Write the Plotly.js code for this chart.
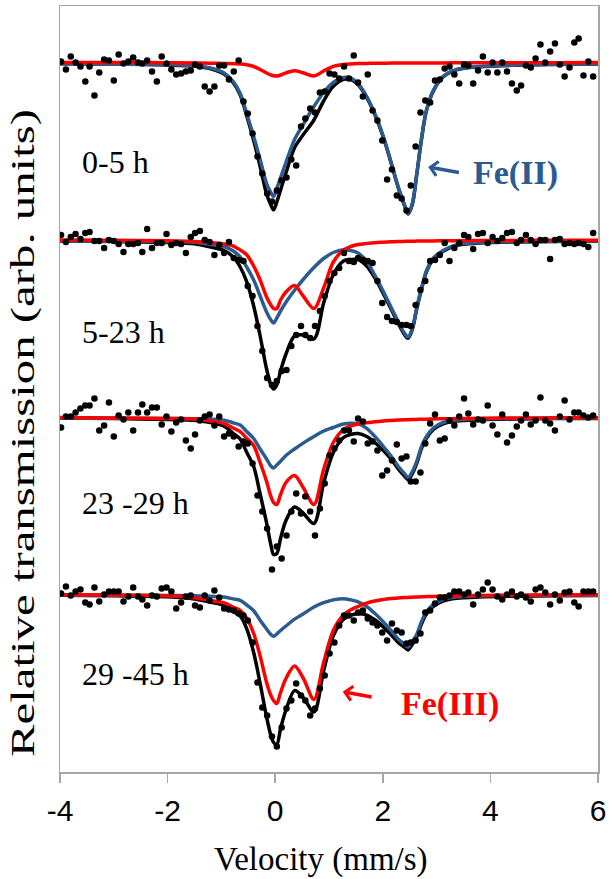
<!DOCTYPE html>
<html>
<head>
<meta charset="utf-8">
<script src="https://cdn.plot.ly/plotly-3.0.1.min.js"></script>
<style>
  html, body { margin: 0; padding: 0; background: #ffffff; }
  #chart { width: 611px; height: 879px; }
</style>
</head>
<body>
<div id="chart"></div>
<script>
// ---------------- DATA ----------------
// Measured velocity channels (mm/s)
const velocity = [
 -3.98,-3.89,-3.80,-3.71,-3.62,-3.53,-3.45,-3.36,-3.27,-3.18,
 -3.09,-3.00,-2.91,-2.82,-2.73,-2.64,-2.55,-2.47,-2.38,-2.29,
 -2.20,-2.11,-2.02,-1.93,-1.84,-1.75,-1.66,-1.57,-1.49,-1.40,
 -1.31,-1.22,-1.13,-1.04,-0.95,-0.86,-0.77,-0.68,-0.59,-0.51,
 -0.42,-0.33,-0.24,-0.15,-0.06,0.03,0.12,0.21,0.30,0.39,
 0.48,0.56,0.65,0.74,0.83,0.92,1.01,1.10,1.19,1.28,
 1.37,1.46,1.54,1.63,1.72,1.81,1.90,1.99,2.08,2.17,
 2.26,2.35,2.44,2.52,2.61,2.70,2.79,2.88,2.97,3.06,
 3.15,3.24,3.33,3.42,3.51,3.59,3.68,3.77,3.86,3.95,
 4.04,4.13,4.22,4.31,4.40,4.49,4.57,4.66,4.75,4.84,
 4.93,5.02,5.11,5.20,5.29,5.38,5.47,5.56,5.64,5.73,
 5.82,5.91];

// Measured relative transmission (arb. units, 0 = baseline) per time window
const data_0_5 = [
 1,-7,6,0,-4,-19,-4,-33,-10,3,
 2,-18,8,-1,1,5,0,-1,2,-9,
 -19,6,-1,-7,-12,-11,-9,-8,-2,-4,
 -24,-29,-24,-3,-3,-17,-9,2,-39,-51,
 -71,-94,-111,-131,-139,-128,-118,-115,-97,-103,
 -64,-56,-46,-50,-30,-29,-11,-12,-16,-4,
 -16,7,-20,-34,-12,-48,-58,-78,-117,-107,
 -133,-136,-148,-123,-84,-50,-38,-40,-18,-17,
 -6,-4,-12,-21,-2,-3,-21,-8,6,-10,
 0,-10,0,-9,-21,-28,-23,-3,-5,4,
 18,0,11,19,-2,-14,-5,20,24,-13,
 1,-14];
const data_5_23 = [
 5,-2,3,6,1,7,8,-1,-1,-8,
 0,-1,-4,-12,-4,-4,-3,-12,11,-8,
 -3,-3,6,-5,-3,-4,-13,3,7,9,
 0,-2,-15,-5,-13,-2,-18,-20,-21,-46,
 -56,-86,-111,-138,-145,-141,-131,-130,-106,-95,
 -86,-95,-98,-86,-71,-56,-41,-33,-28,-13,
 -21,-22,-18,-20,-21,-23,-41,-63,-77,-81,
 -82,-85,-85,-86,-65,-50,-41,-21,-20,-15,
 -3,-21,-8,-3,5,3,-9,6,7,-3,
 3,-1,2,7,8,-3,0,5,0,-4,
 0,0,-19,0,1,-4,-3,-4,-3,-4,
 -7,7];
const data_23_29 = [
 -10,1,1,5,9,12,12,19,-13,-8,
 15,-19,2,-2,5,-13,5,13,5,10,
 10,-7,1,-14,-5,-2,-23,-31,-17,-3,
 1,3,-8,1,-19,-16,-19,-29,-24,-26,
 -46,-78,-94,-111,-152,-129,-141,-118,-94,-76,
 -96,-79,-94,-118,-91,-66,-38,-31,-23,-13,
 -13,-24,-1,-4,-26,-24,-33,-58,-53,-43,
 -27,-41,-39,-64,-64,-55,-26,-6,3,-23,
 -21,-3,-8,1,19,4,-7,-2,-3,12,
 -8,-17,3,-25,-18,-9,-3,3,-7,-3,
 20,-3,-6,-13,1,17,-2,5,5,2,
 0,2];
const data_29_45 = [
 1,8,-1,3,5,-8,-10,7,-7,0,
 3,3,3,-7,-2,7,-2,-5,-11,-1,
 -2,6,7,3,-14,-8,-2,-1,-11,-13,
 -1,-6,4,-3,-14,-15,-16,-19,-21,-26,
 -48,-88,-113,-121,-142,-152,-133,-114,-106,-89,
 -101,-106,-121,-114,-94,-81,-59,-48,-31,-21,
 -21,-26,-18,-16,-24,-28,-31,-38,-46,-29,
 -36,-38,-49,-48,-46,-39,-18,-16,-9,-3,
 -3,-1,3,3,0,2,-10,0,5,12,
 5,-2,-5,0,3,-2,0,-3,-7,5,
 7,2,-10,0,-6,2,3,-8,-12,3,
 3,3];

// Fitted curves, sampled at these velocities (mm/s)
const fitVelocity = [-4.0,-3.0,-2.0,-1.5,-1.2,-0.95,-0.78,-0.65,-0.53,-0.4,
 -0.28,-0.16,-0.08,-0.03,0.03,0.1,0.2,0.36,0.52,0.72,
 0.9,1.08,1.27,1.4,1.54,1.7,1.85,2.01,2.16,2.29,
 2.4,2.47,2.55,2.63,2.72,2.81,2.94,3.12,3.37,3.8,
 4.5,5.2,6.0];

// 0-5 h
const total_0_5 = [-1.2,-1.6,-2.5,-3.7,-6.2,-11.5,-20.3,-32.6,-53.3,-78,
 -104,-131.5,-142.5,-147.3,-139.5,-127.5,-110.3,-85.2,-72.3,-57.5,
 -38.5,-23.8,-16.9,-16.9,-22.1,-34.9,-51.8,-74.7,-101.6,-125.6,
 -142.5,-151.5,-141.5,-112.5,-76.5,-48.4,-28.4,-14.4,-7.4,-4.3,
 -2.7,-2,-1.5];
const fe2_0_5 = [-1.2,-1.6,-2.2,-3.2,-5.5,-10.5,-19,-31,-51,-74,
 -97,-121,-130,-134,-126,-115,-100,-77,-62,-44,
 -30,-20,-15,-15.5,-21,-34,-51,-74,-101,-125,
 -142,-151,-141,-112,-76,-48,-28,-14,-7,-4,
 -2.5,-1.8,-1.4];
const fe3_0_5 = [0,0,-0.3,-0.5,-0.7,-1,-1.3,-1.6,-2.3,-4,
 -7,-10.5,-12.5,-13.3,-13.5,-12.5,-10.3,-8.2,-10.3,-13.5,
 -8.5,-3.8,-1.9,-1.4,-1.1,-0.9,-0.8,-0.7,-0.6,-0.55,
 -0.5,-0.5,-0.5,-0.45,-0.45,-0.4,-0.4,-0.4,-0.35,-0.3,
 -0.2,-0.2,-0.1];

// 5-23 h
const total_5_23 = [-1,-1.6,-2.5,-3.7,-7,-10.5,-17,-27,-41.7,-66,
 -96,-129,-145,-149,-145,-131,-114,-96,-95,-99,
 -63,-34.5,-21,-19.5,-19.5,-26,-37.7,-53.7,-69.8,-83.6,
 -94.4,-98.3,-89.2,-69.1,-49,-32,-18.9,-11.3,-5.4,-3,
 -1.9,-1.5,-1.2];
const fe2_5_23 = [-1,-1.3,-1.8,-2.3,-4.5,-6.5,-11,-17,-27,-40,
 -56,-72,-80,-83,-78,-71,-62.3,-50.3,-39.5,-27.5,
 -18.5,-12.5,-9.8,-10.5,-13,-21.3,-35,-51.5,-68,-82,
 -93,-97,-88,-68,-48,-31,-18,-10.5,-4.7,-2.5,
 -1.5,-1.2,-1];
const fe3_5_23 = [0,-0.3,-0.7,-1.4,-2.5,-4,-6,-10,-14.7,-26,
 -40,-57,-65,-68.5,-68.5,-60,-52,-45.5,-56,-68.5,
 -48,-22,-10,-6.5,-4.5,-3.5,-2.7,-2.2,-1.8,-1.6,
 -1.4,-1.3,-1.2,-1.1,-1,-1,-0.9,-0.8,-0.7,-0.5,
 -0.4,-0.3,-0.2];

// 23-29 h
const total_23_29 = [-0.5,-1.1,-2,-2.8,-5.1,-8.6,-15.8,-21.7,-34.8,-49,
 -76.5,-105.5,-127.5,-137,-136,-120.8,-103,-89.5,-95.6,-106,
 -65.5,-35,-20,-17,-16,-19,-25,-33,-42,-51.6,
 -58.3,-62.2,-56,-45.9,-30.8,-20.7,-12,-6.3,-3.6,-2.3,
 -1.5,-1.1,-0.9];
const fe2_23_29 = [-0.5,-0.7,-1,-1.3,-1.6,-2.6,-5.3,-7.5,-14,-21,
 -31.5,-41.5,-48.5,-50.5,-47.5,-43.8,-38,-31.5,-25.6,-19,
 -13.5,-10,-6.5,-5.8,-6.3,-10.8,-18.8,-29,-39,-49,
 -56,-60,-54,-44,-29,-19,-10.5,-5,-2.5,-1.5,
 -1,-0.8,-0.7];
const fe3_23_29 = [0,-0.4,-1,-1.5,-3.5,-6,-10.5,-14.2,-20.8,-28,
 -45,-64,-79,-85,-87,-77,-65,-58,-70,-87,
 -52,-25,-12,-8.5,-6.5,-5.3,-4.3,-3.5,-3,-2.6,
 -2.3,-2.2,-2,-1.9,-1.8,-1.7,-1.5,-1.3,-1.1,-0.8,
 -0.5,-0.3,-0.2];

// 29-45 h
const total_29_45 = [-0.8,-1.3,-2.2,-4.4,-7.8,-10.9,-17,-21.6,-34.1,-58,
 -89,-122.5,-141,-148,-150,-134,-115.5,-96.1,-102.9,-117.5,
 -76.2,-41.4,-24.7,-20.8,-19.3,-20.6,-25.3,-32.5,-40.6,-48.2,
 -52.6,-55.4,-49.7,-42.5,-29.3,-19.6,-11.9,-6.6,-3.8,-2.5,
 -1.7,-1.2,-1];
const fe2_29_45 = [-0.5,-0.7,-1,-1.2,-1.8,-2.6,-4.4,-5.8,-10.5,-16.2,
 -25.8,-34.5,-40,-41.8,-39.5,-36,-31.5,-24.6,-19.4,-12.5,
 -8.2,-5.4,-4.2,-5.3,-7.3,-12,-18.8,-27.5,-36.5,-44.7,
 -49.5,-52.5,-47,-40,-27,-17.5,-10,-5,-2.5,-1.5,
 -1,-0.8,-0.7];
const fe3_29_45 = [-0.3,-0.6,-1.2,-3.2,-6,-8.3,-12.6,-15.8,-23.6,-39,
 -61.5,-88,-101,-106,-109,-98,-84,-71.5,-83.5,-105,
 -68,-36,-20.5,-15.5,-12,-8.6,-6.5,-5,-4.1,-3.5,
 -3.1,-2.9,-2.7,-2.5,-2.3,-2.1,-1.9,-1.6,-1.3,-1,
 -0.7,-0.4,-0.3];

const timeLabels = ["0-5 h", "5-23 h", "23 -29 h", "29 -45 h"];
// vertical stacking offset of each spectrum (baseline level)
const stackOffset = [709.5, 532, 354.5, 177.5];

// ---------------- BUILD ----------------
const spectra = [
  {dots: data_0_5,   total: total_0_5,   fe2: fe2_0_5,   fe3: fe3_0_5},
  {dots: data_5_23,  total: total_5_23,  fe2: fe2_5_23,  fe3: fe3_5_23},
  {dots: data_23_29, total: total_23_29, fe2: fe2_23_29, fe3: fe3_23_29},
  {dots: data_29_45, total: total_29_45, fe2: fe2_29_45, fe3: fe3_29_45}
];
const BLUE = '#2b5b8f', RED = '#ff0000';
const shift = (arr, off) => arr.map(v => v + off);
const lineTraces = [], dotTraces = [];
spectra.forEach((s, k) => {
  const off = stackOffset[k];
  lineTraces.push({x: fitVelocity, y: shift(s.total, off), mode: 'lines', name: timeLabels[k] + ' fit',
    line: {color: '#000000', width: 3.5, shape: 'spline', smoothing: 0.9}, hoverinfo: 'skip'});
  lineTraces.push({x: fitVelocity, y: shift(s.fe2, off), mode: 'lines', name: timeLabels[k] + ' Fe(II)',
    line: {color: BLUE, width: 3.5, shape: 'spline', smoothing: 0.9}, hoverinfo: 'skip'});
  lineTraces.push({x: fitVelocity, y: shift(s.fe3, off), mode: 'lines', name: timeLabels[k] + ' Fe(III)',
    line: {color: RED, width: 3.5, shape: 'spline', smoothing: 0.9}, hoverinfo: 'skip'});
  dotTraces.push({x: velocity, y: shift(s.dots, off), mode: 'markers', name: timeLabels[k] + ' data',
    marker: {color: '#000000', size: 6.5}});
});

const SERIF = 'Liberation Serif, Times New Roman, serif';
const SANS = 'Liberation Sans, Arial, sans-serif';
const GRAY = '#a6a6a6';

const annotations = [];
const labelY = [610, 440.5, 269.5, 98];
timeLabels.forEach((t, k) => annotations.push({
  x: -3.62, y: labelY[k], xref: 'x', yref: 'y', text: t, showarrow: false,
  xanchor: 'left', yanchor: 'middle', font: {family: SERIF, size: 32, color: '#000'}
}));
annotations.push({x: 4.47, y: 599, xref: 'x', yref: 'y', text: '<b>Fe(II)</b>', showarrow: false,
  xanchor: 'center', yanchor: 'middle', font: {family: SERIF, size: 34, color: BLUE}});
annotations.push({x: 3.24, y: 68, xref: 'x', yref: 'y', text: '<b>Fe(III)</b>', showarrow: false,
  xanchor: 'center', yanchor: 'middle', font: {family: SERIF, size: 34, color: RED}});
annotations.push({x: 2.843, y: 605, ax: 3.443, ay: 599.3, xref: 'x', yref: 'y', axref: 'x', ayref: 'y',
  text: '', showarrow: true, arrowhead: 4, arrowsize: 0.8, arrowwidth: 3.5, arrowcolor: BLUE, standoff: 0});
annotations.push({x: 1.256, y: 80.3, ax: 1.82, ay: 74.7, xref: 'x', yref: 'y', axref: 'x', ayref: 'y',
  text: '', showarrow: true, arrowhead: 4, arrowsize: 0.8, arrowwidth: 3.5, arrowcolor: RED, standoff: 0});
// x-axis title, placed below the tick labels as in the reference
annotations.push({x: 0.486, y: -0.1145, xref: 'paper', yref: 'paper', text: 'Velocity (mm/s)',
  showarrow: false, xanchor: 'center', yanchor: 'middle',
  font: {family: SERIF, size: 33, color: '#000'}});

const layout = {
  width: 611, height: 879,
  margin: {l: 60, r: 13, t: 6, b: 107},
  paper_bgcolor: '#ffffff', plot_bgcolor: '#ffffff',
  showlegend: false,
  xaxis: {
    range: [-4, 6], tickvals: [-4, -2, 0, 2, 4, 6], ticktext: ['-4', '-2', '0', '2', '4', '6'],
    ticks: 'outside', ticklen: 9, tickwidth: 1.5, tickcolor: GRAY, ticklabelstandoff: 2,
    showline: true, linecolor: GRAY, linewidth: 1.5, mirror: true,
    showgrid: false, zeroline: false,
    tickfont: {family: SANS, size: 30, color: '#000'}
  },
  yaxis: {
    range: [0, 766], showticklabels: false, ticks: '',
    showline: true, linecolor: GRAY, linewidth: 1.5, mirror: true,
    showgrid: false, zeroline: false,
    title: {text: 'Relative transmission (arb. units)', font: {family: SERIF, size: 34, color: '#000'}}
  },
  annotations: annotations
};

// stretch and place the y-axis title as in the reference figure (idempotent)
function placeYTitle() {
  const t = document.querySelector('text.ytitle');
  if (!t) return;
  if (t.dataset.orig === undefined) t.dataset.orig = t.getAttribute('transform') || '';
  t.setAttribute('textLength', '648');
  t.setAttribute('lengthAdjust', 'spacingAndGlyphs');
  t.setAttribute('transform', t.dataset.orig);
  const r = t.getBoundingClientRect();
  const dx = 23 - (r.left + r.width / 2);
  const dy = 433 - (r.top + r.height / 2);
  t.setAttribute('transform', 'translate(' + dx + ',' + dy + ') ' + t.dataset.orig);
}

Plotly.newPlot('chart', lineTraces.concat(dotTraces), layout, {staticPlot: true, displayModeBar: false})
.then(gd => {
  placeYTitle();
  setTimeout(placeYTitle, 30);
});
</script>
</body>
</html>
